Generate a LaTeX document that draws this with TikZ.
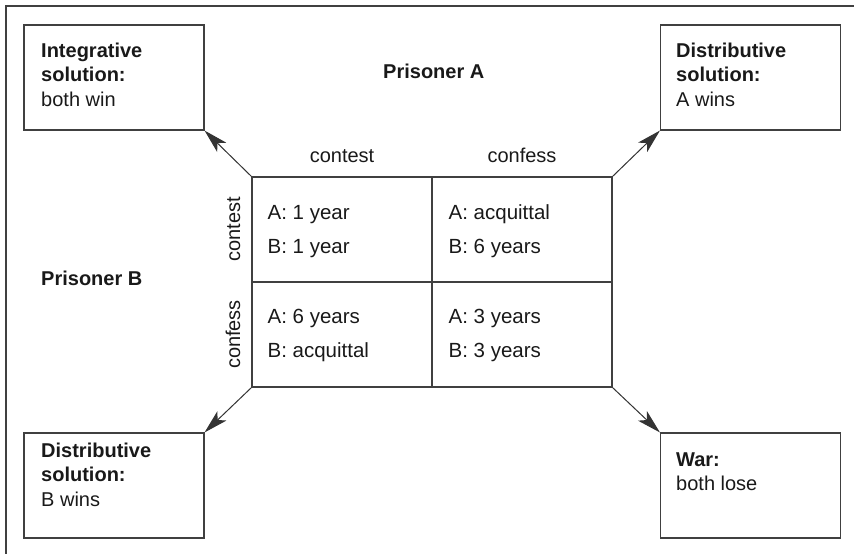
\documentclass[tikz,border=0pt]{standalone}
\usepackage{fontspec}
\setmainfont{Liberation Sans}
\usetikzlibrary{arrows.meta,calc}

\tikzset{
  frameline/.style={draw=black!75, line width=1.6pt},
  outcome/.style={draw=black!75, line width=1.1pt, minimum width=180pt,
    minimum height=105pt, inner sep=0pt},
  cell/.style={draw=black!75, line width=1.1pt, minimum width=180pt,
    minimum height=105pt, inner sep=0pt},
  txt/.style={inner sep=0pt, anchor=base west, text=black!90,
    font=\fontsize{20}{24.5}\selectfont},
  celltxt/.style={txt, font=\fontsize{20.5}{34}\selectfont},
  head/.style={inner sep=0pt, anchor=base, text=black!90,
    font=\fontsize{20}{24}\selectfont},
  outarrow/.style={draw=black!80, line width=1pt,
    -{Stealth[length=24pt, width=13pt, inset=6pt]}},
}

\begin{document}
\begin{tikzpicture}[x=1pt, y=-1pt]
\useasboundingbox (0,0) rectangle (854,554);

% frame
\draw[frameline] (6,554) -- (6,6) -- (854,6);

% outcome boxes
\node[outcome] (tl) at (114,77.5) {};
\node[outcome] (tr) at (750.5,77.5) {};
\node[outcome] (bl) at (114,485.5) {};
\node[outcome] (br) at (750.5,485.5) {};

% payoff matrix
\node[cell] (c11) at (342,229.5) {};
\node[cell] (c12) at (522,229.5) {};
\node[cell] (c21) at (342,334.5) {};
\node[cell] (c22) at (522,334.5) {};

% outcome labels
\node[txt] (tltxt) at (41,57) {\begin{tabular}[t]{@{}l@{}}\textbf{Integrative}\\\textbf{solution:}\\both win\end{tabular}};
\node[txt] (trtxt) at (676,57) {\begin{tabular}[t]{@{}l@{}}\textbf{Distributive}\\\textbf{solution:}\\A wins\end{tabular}};
\node[txt] (bltxt) at (41,457) {\begin{tabular}[t]{@{}l@{}}\textbf{Distributive}\\\textbf{solution:}\\B wins\end{tabular}};
\node[txt] (brtxt) at (676,466) {\begin{tabular}[t]{@{}l@{}}\textbf{War:}\\both lose\end{tabular}};

% cell contents
\node[celltxt] (t11) at ($(c11.north west)+(16,43)$) {\begin{tabular}[t]{@{}l@{}}A: 1 year\\B: 1 year\end{tabular}};
\node[celltxt] (t12) at ($(c12.north west)+(17,43)$) {\begin{tabular}[t]{@{}l@{}}A: acquittal\\B: 6 years\end{tabular}};
\node[celltxt] (t21) at ($(c21.north west)+(16,42)$) {\begin{tabular}[t]{@{}l@{}}A: 6 years\\B: acquittal\end{tabular}};
\node[celltxt] (t22) at ($(c22.north west)+(17,42)$) {\begin{tabular}[t]{@{}l@{}}A: 3 years\\B: 3 years\end{tabular}};

% players and strategies
\node[txt, font=\fontsize{20}{24}\selectfont\bfseries] (pa) at (383,78) {Prisoner A};
\node[txt, font=\fontsize{20}{24}\selectfont\bfseries] (pb) at (41,285) {Prisoner B};
\node[head] (hcontest) at (342,162) {contest};
\node[head] (hconfess) at (522,162) {confess};
\node[head, rotate=90] (vcontest) at (240,229.5) {contest};
\node[head, rotate=90] (vconfess) at (240,334.5) {confess};

% arrows to outcomes
\draw[outarrow] (c11.north west) -- (tl.south east);
\draw[outarrow] (c12.north east) -- (tr.south west);
\draw[outarrow] (c21.south west) -- (bl.north east);
\draw[outarrow] (c22.south east) -- (br.north west);
\end{tikzpicture}
\end{document}
